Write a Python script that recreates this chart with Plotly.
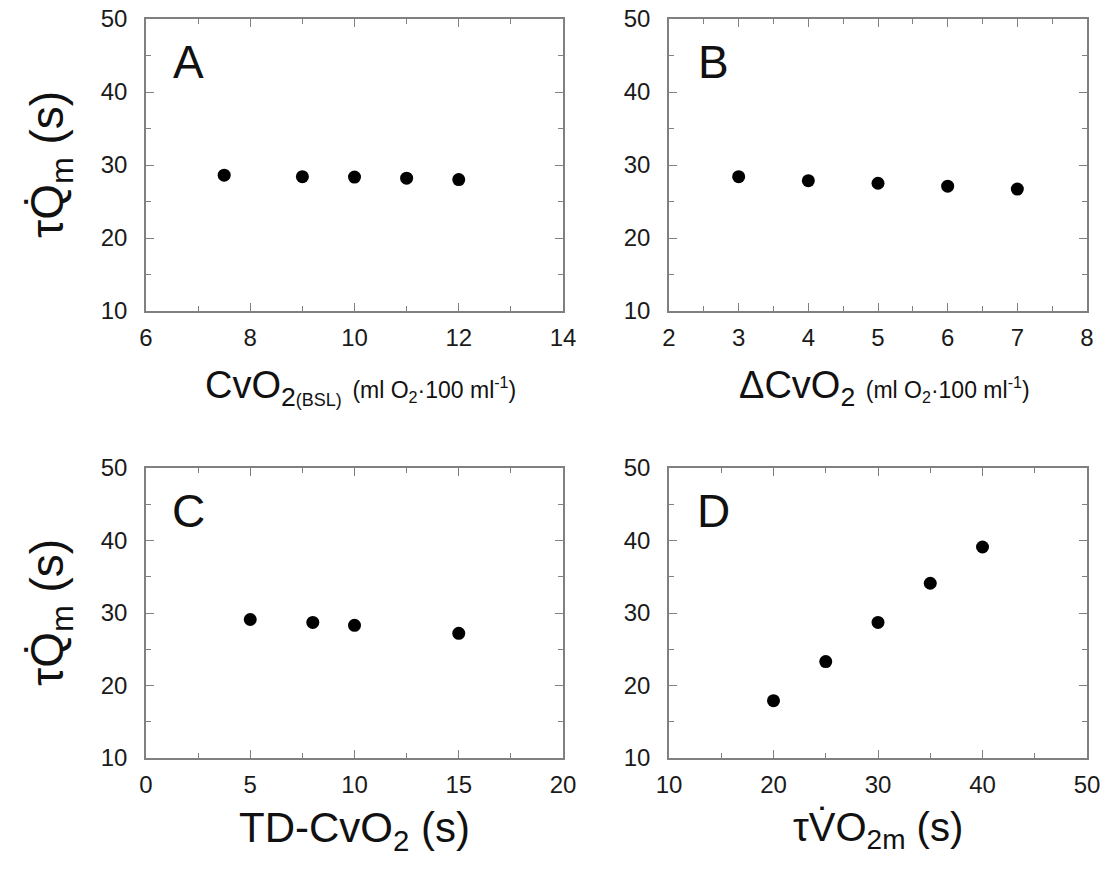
import plotly.graph_objects as go

# ---- data ----
a_x = [7.5, 9, 10, 11, 12]
a_y = [28.6, 28.4, 28.35, 28.2, 28.0]
b_x = [3, 4, 5, 6, 7]
b_y = [28.4, 27.85, 27.5, 27.1, 26.7]
c_x = [5, 8, 10, 15]
c_y = [29.1, 28.7, 28.3, 27.2]
d_x = [20, 25, 30, 35, 40]
d_y = [17.9, 23.3, 28.7, 34.1, 39.1]

panel_letters = ["A", "B", "C", "D"]
x_ranges = [[6, 14], [2, 8], [0, 20], [10, 50]]
x_dticks = [2, 1, 5, 10]
y_range = [10, 50]

W, H = 1107, 872
FONT = "Liberation Sans, Arial, sans-serif"
AXC = "#808080"

# panel pixel boxes (left, right, top, bottom)
boxes = [(146, 563, 19, 311), (669, 1087, 19, 311),
         (146, 563, 468, 758), (669, 1087, 468, 758)]

fig = go.Figure()
series = [(a_x, a_y), (b_x, b_y), (c_x, c_y), (d_x, d_y)]
for i, (xs, ys) in enumerate(series):
    n = "" if i == 0 else str(i + 1)
    fig.add_trace(go.Scatter(x=xs, y=ys, mode="markers",
                             marker=dict(color="black", size=13),
                             xaxis="x" + n, yaxis="y" + n, showlegend=False))
    l, r, t, b = boxes[i]
    common = dict(showgrid=False, zeroline=False, showline=True, linecolor=AXC,
                  linewidth=1.5, mirror="ticks", ticks="inside", ticklen=8,
                  tickwidth=1.2, tickcolor=AXC, automargin=False,
                  tickfont=dict(family=FONT, size=24, color="#1a1a1a"))
    fig.update_layout(**{
        "xaxis" + n: dict(domain=[l / W, r / W], range=x_ranges[i],
                          dtick=x_dticks[i], tick0=0,
                          minor=dict(ticks="inside", ticklen=5, tickcolor=AXC,
                                     dtick=x_dticks[i] / 2, tickwidth=1.2),
                          anchor="y" + n, ticklabelstandoff=4, **common),
        "yaxis" + n: dict(domain=[1 - b / H, 1 - t / H], range=y_range,
                          dtick=10, tick0=0,
                          minor=dict(ticks="inside", ticklen=5, tickcolor=AXC,
                                     dtick=5, tickwidth=1.2),
                          anchor="x" + n, ticklabelstandoff=12, **common),
    })
    # panel letter
    fig.add_annotation(x=(l + 42) / W if i % 2 == 0 else (l + 44) / W,
                       y=1 - (t + 43) / H, xref="paper", yref="paper",
                       text=panel_letters[i], showarrow=False,
                       font=dict(family=FONT, size=46, color="#111"),
                       xanchor="center", yanchor="middle")

small = "font-size:23px"
x_titles = [
    "CvO<sub>2<span style='font-size:18px'>(BSL)</span></sub> "
    "<span style='" + small + "'>(ml O<sub>2</sub>·100 ml<sup>-1</sup>)</span>",
    "ΔCvO<sub>2</sub> "
    "<span style='" + small + "'>(ml O<sub>2</sub>·100 ml<sup>-1</sup>)</span>",
    "TD-CvO<sub>2</sub> (s)",
    "τV̇O<sub>2m</sub> (s)",
]
x_title_y = [388, 388, 830, 830]
x_title_size = [38, 38, 42, 40]
for i, txt in enumerate(x_titles):
    l, r, t, b = boxes[i]
    fig.add_annotation(x=(l + r) / 2 / W + (6 / W if i < 2 else 0),
                       y=1 - x_title_y[i] / H, xref="paper", yref="paper",
                       text=txt, showarrow=False,
                       font=dict(family=FONT, size=x_title_size[i], color="#111"),
                       xanchor="center", yanchor="middle")

for i in (0, 2):
    l, r, t, b = boxes[i]
    fig.add_annotation(x=50 / W, y=1 - (t + b) / 2 / H, xref="paper", yref="paper",
                       text="τQ̇<sub>m</sub> (s)", showarrow=False, textangle=-90,
                       font=dict(family=FONT, size=46, color="#111"),
                       xanchor="center", yanchor="middle")

fig.update_layout(width=W, height=H,
                  margin=dict(l=0, r=0, t=0, b=0, pad=0, autoexpand=False),
                  paper_bgcolor="white", plot_bgcolor="white")
fig.write_html("out.html")
